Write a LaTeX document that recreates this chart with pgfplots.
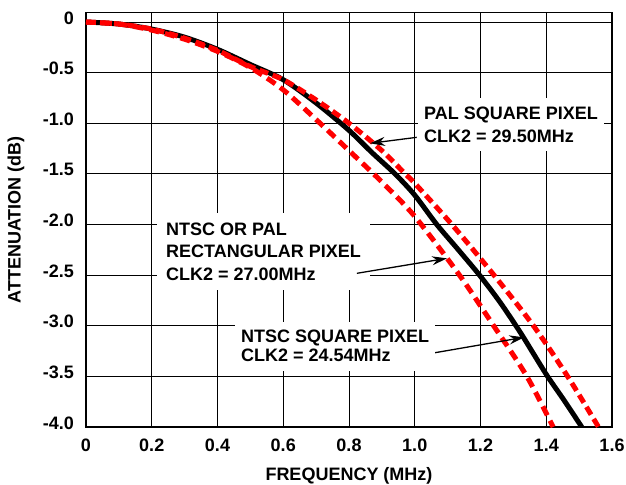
\documentclass[border=0pt]{standalone}
\usepackage{fontspec}
\setmainfont{Liberation Sans}[BoldFont={Liberation Sans Bold}]
\usepackage{pgfplots}
\pgfplotsset{compat=1.18}
\usetikzlibrary{arrows.meta}

% curve data
\pgfplotstableread{
x y
0 0
0.1 -0.02
0.2 -0.07
0.3 -0.15
0.4 -0.27
0.5 -0.42
0.6 -0.57
0.7 -0.80
0.8 -1.07
0.87 -1.29
0.94 -1.5
1.0 -1.71
1.067 -2.0
1.13 -2.24
1.197 -2.5
1.26 -2.77
1.32 -3.06
1.36 -3.27
1.404 -3.5
1.455 -3.74
1.508 -4.0
}\blackcurve
\pgfplotstableread{
x y
0 0
0.1 -0.02
0.2 -0.07
0.3 -0.16
0.4 -0.28
0.5 -0.44
0.6 -0.57
0.7 -0.77
0.8 -1.0
0.9 -1.27
0.971 -1.5
1.0 -1.593
1.113 -2.0
1.241 -2.5
1.361 -3.0
1.465 -3.5
1.559 -4.0
}\outerred
\pgfplotstableread{
x y
0 0
0.1 -0.02
0.2 -0.08
0.3 -0.17
0.4 -0.29
0.5 -0.45
0.6 -0.67
0.712 -1.0
0.8 -1.27
0.9 -1.58
1.0 -1.92
1.136 -2.5
1.240 -3.0
1.341 -3.5
1.421 -4.0
}\innerred

\begin{document}
\begin{tikzpicture}
\useasboundingbox (-86bp,-58bp) rectangle (540bp,427bp);
\begin{axis}[
  scale only axis,
  width=526bp, height=414.3bp,
  xmin=0, xmax=1.6, ymin=-4, ymax=0.092,
  xtick={0,0.2,...,1.6},
  xticklabels={0,0.2,0.4,0.6,0.8,1.0,1.2,1.4,1.6},
  ytick={-4,-3.5,-3,-2.5,-2,-1.5,-1,-0.5,0},
  yticklabels={-4.0,-3.5,-3.0,-2.5,-2.0,-1.5,-1.0,-0.5,0},
  major tick length=0pt,
  grid=major,
  grid style={black, line width=1bp},
  axis line style={line width=1.3bp},
  tick label style={font=\bfseries\fontsize{18bp}{21bp}\selectfont, inner sep=0pt},
  xticklabel style={anchor=base, yshift=-24bp},
  yticklabel style={anchor=base east, xshift=-12bp, yshift=-2bp},
  xlabel={FREQUENCY (MHz)},
  ylabel={ATTENUATION (dB)},
  label style={font=\bfseries\fontsize{18bp}{21bp}\selectfont},
  xlabel style={at={(axis description cs:0.5,-0.128)}, anchor=base},
  ylabel style={at={(axis description cs:-0.133,0.5)}, anchor=center, rotate=0},
]
\addplot[black, line width=5bp, smooth, tension=0.5] table {\blackcurve};
\addplot[red, line width=5bp, smooth, tension=0.5, dash pattern=on 9bp off 5bp] table {\outerred};
\addplot[red, line width=5bp, smooth, tension=0.5, dash pattern=on 10bp off 6bp] table {\innerred};

\node[anchor=north west, fill=white, inner xsep=6bp, inner ysep=9bp, align=left,
  font=\bfseries\fontsize{18bp}{22.5bp}\selectfont]
  at (axis cs:1.010,-0.751) {PAL SQUARE PIXEL\\CLK2 = 29.50MHz};
\node[anchor=north west, fill=white, inner xsep=9bp, inner ysep=9.5bp, align=left,
  font=\bfseries\fontsize{18bp}{22.5bp}\selectfont]
  at (axis cs:0.216,-1.886) {NTSC OR PAL\\RECTANGULAR PIXEL\\CLK2 = 27.00MHz};
\node[anchor=north west, fill=white, inner xsep=6bp, inner ysep=8.5bp, align=left,
  font=\bfseries\fontsize{18bp}{19bp}\selectfont]
  at (axis cs:0.453,-2.96) {NTSC SQUARE PIXEL\\CLK2 = 24.54MHz};

\draw[line width=1.3bp, -{Stealth[length=15bp,width=9bp]}] (axis cs:1.006,-1.139) -- (axis cs:0.864,-1.198);
\draw[line width=1.3bp, -{Stealth[length=15bp,width=9bp]}] (axis cs:0.824,-2.482) -- (axis cs:1.098,-2.334);
\draw[line width=1.3bp, -{Stealth[length=15bp,width=9bp]}] (axis cs:1.062,-3.266) -- (axis cs:1.333,-3.114);
\end{axis}
\end{tikzpicture}
\end{document}
